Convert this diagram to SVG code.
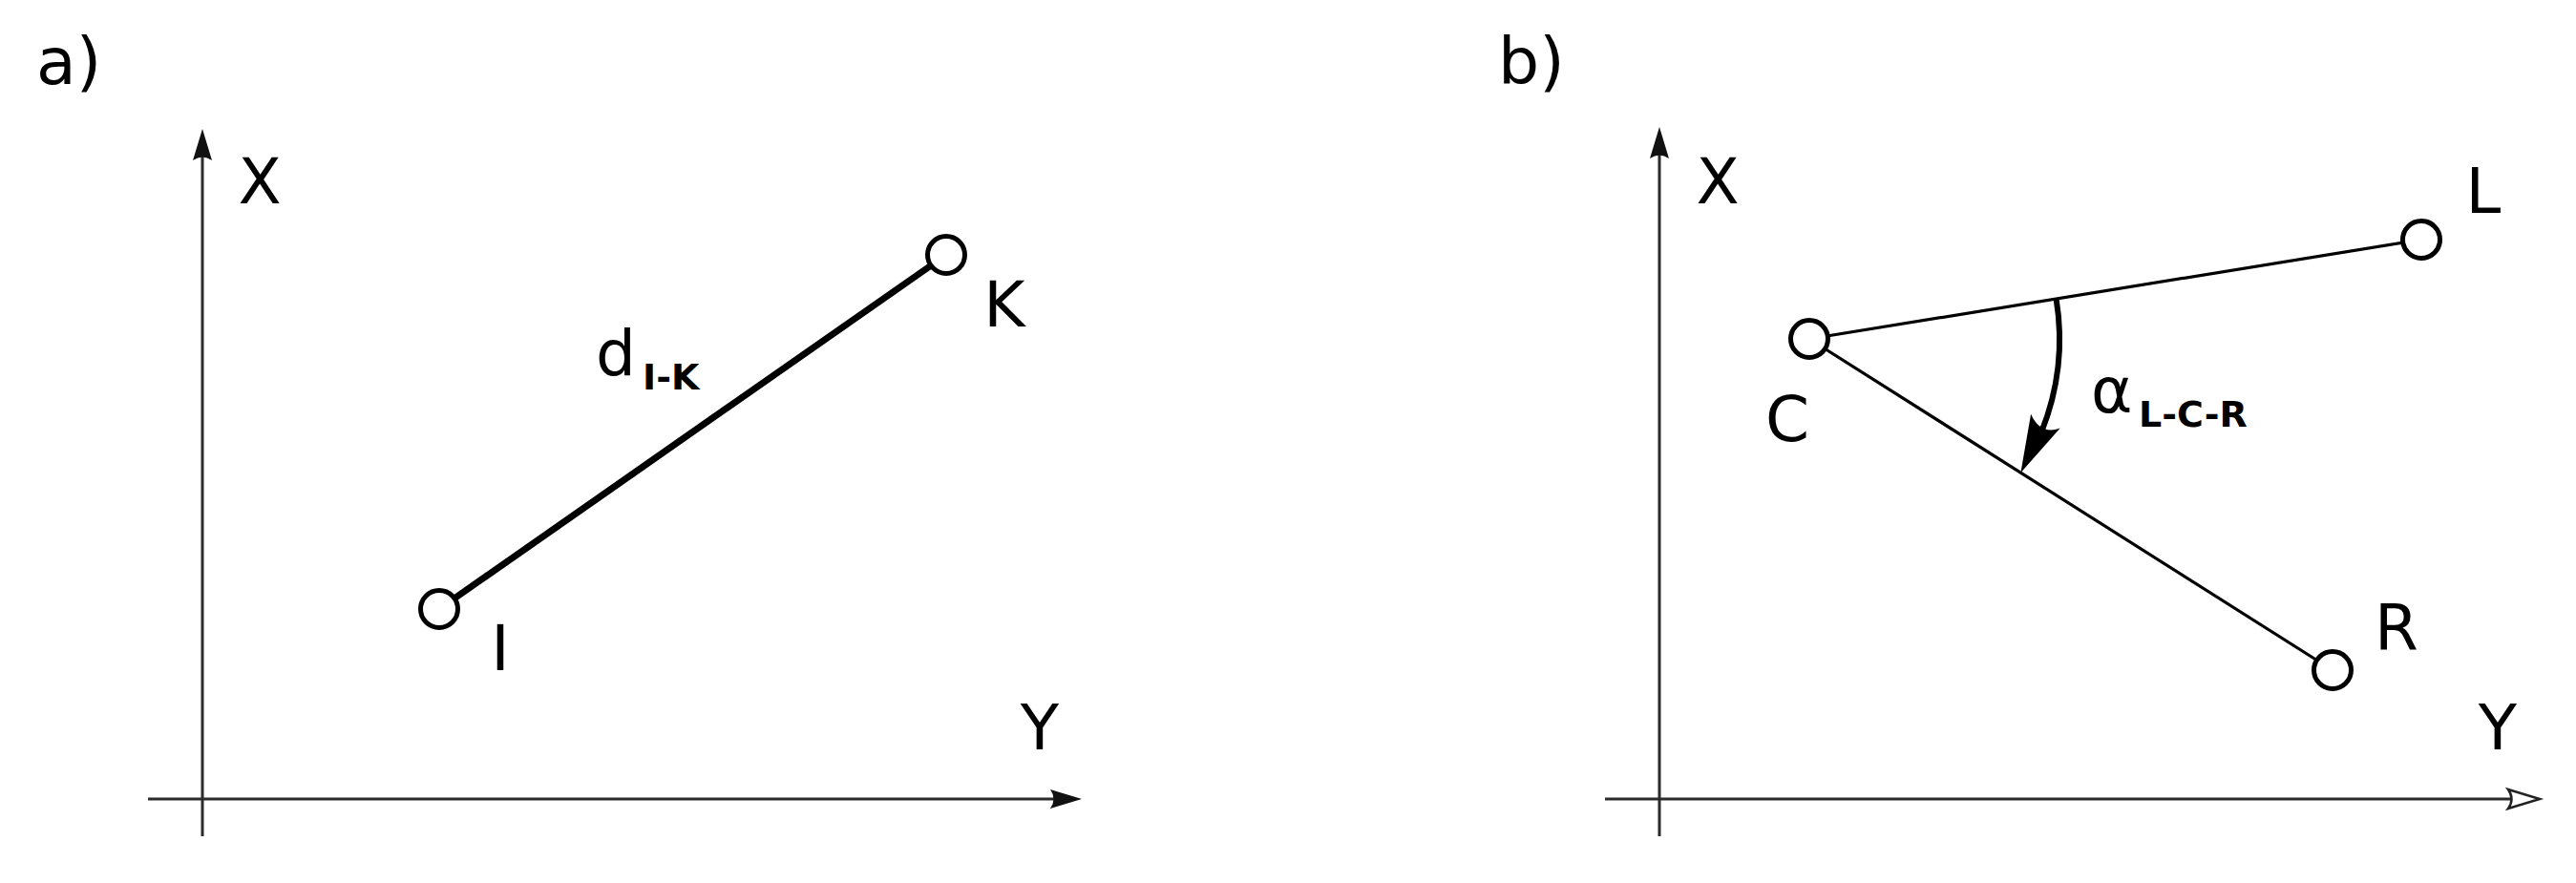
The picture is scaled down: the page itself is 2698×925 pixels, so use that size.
<svg xmlns="http://www.w3.org/2000/svg" width="2698" height="925" viewBox="0 0 2698 925">
<style>
  text { font-family: "DejaVu Sans", Verdana, sans-serif; fill: #000; }
  .lbl { font-size: 66px; text-anchor: middle; }
  .panel { font-size: 68px; }
  .sub { font-size: 38px; font-weight: bold; }
  .axis { stroke: #2b2b2b; stroke-width: 3; fill: none; }
  .pt { fill: #fff; stroke: #000; stroke-width: 5; }
  .thin { stroke: #000; stroke-width: 3.2; fill: none; }
</style>
<defs>
  <marker id="arrFill" markerUnits="userSpaceOnUse" markerWidth="44" markerHeight="28" viewBox="-3 -14 44 28" refX="10" refY="0" orient="auto">
    <path d="M0,-10 L33,0 L0,10 Q7,0 0,-10 Z" fill="#111"/>
  </marker>
  <marker id="arrOpen" markerUnits="userSpaceOnUse" markerWidth="44" markerHeight="28" viewBox="-3 -14 44 28" refX="5" refY="0" orient="auto">
    <path d="M0,-10 L33,0 L0,10 Q7,0 0,-10 Z" fill="#fff" stroke="#222" stroke-width="2.5" stroke-linejoin="miter"/>
  </marker>
</defs>
<rect width="2698" height="925" fill="#fff"/>

<g id="panel-a">
  <text class="panel" x="38" y="88">a)</text>
  <g id="axes-a">
    <line class="axis" x1="212" y1="876" x2="212" y2="158" marker-end="url(#arrFill)"/>
    <line class="axis" x1="155" y1="837" x2="1110" y2="837" marker-end="url(#arrFill)"/>
    <text class="lbl" x="272" y="213">X</text>
    <text class="lbl" x="1089" y="785">Y</text>
  </g>
</g>

<g id="panel-b">
  <text class="panel" x="1569" y="88">b)</text>
  <g id="axes-b">
    <line class="axis" x1="1738" y1="876" x2="1738" y2="156" marker-end="url(#arrFill)"/>
    <line class="axis" x1="1681" y1="837" x2="2632" y2="837" marker-end="url(#arrOpen)"/>
    <text class="lbl" x="1799" y="213">X</text>
    <text class="lbl" x="2616" y="785">Y</text>
  </g>
</g>

<g id="connectors">
  <g id="edge-I-K">
    <line x1="460" y1="638" x2="991" y2="267" stroke="#000" stroke-width="7"/>
    <text x="624" y="393" font-size="66px">d<tspan class="sub" x="673" y="408">I-K</tspan></text>
  </g>
  <line id="edge-C-L" class="thin" x1="1895" y1="355" x2="2536" y2="251"/>
  <line id="edge-C-R" class="thin" x1="1895" y1="355" x2="2443" y2="702"/>
  <g id="angle-L-C-R">
    <path d="M2153.6,313 A262,262 0 0 1 2137.9,453.1" stroke="#000" stroke-width="6" fill="none"/>
    <path d="M2116.4,495.2 L2157.7,448.6 Q2137,456 2127.1,433.8 Z" fill="#000"/>
    <text x="2190" y="432" font-size="66px">α<tspan class="sub" x="2240" y="447">L-C-R</tspan></text>
  </g>
</g>

<g id="node-I">
  <circle class="pt" cx="460" cy="638" r="19.5"/>
  <text class="lbl" x="524" y="702">I</text>
</g>
<g id="node-K">
  <circle class="pt" cx="991" cy="267" r="19.5"/>
  <text class="lbl" x="1052" y="342">K</text>
</g>
<g id="node-C">
  <circle class="pt" cx="1895" cy="355" r="19.5"/>
  <text class="lbl" x="1872" y="462">C</text>
</g>
<g id="node-L">
  <circle class="pt" cx="2536" cy="251" r="19.5"/>
  <text class="lbl" x="2601" y="223">L</text>
</g>
<g id="node-R">
  <circle class="pt" cx="2443" cy="702" r="19.5"/>
  <text class="lbl" x="2510" y="680">R</text>
</g>
</svg>
